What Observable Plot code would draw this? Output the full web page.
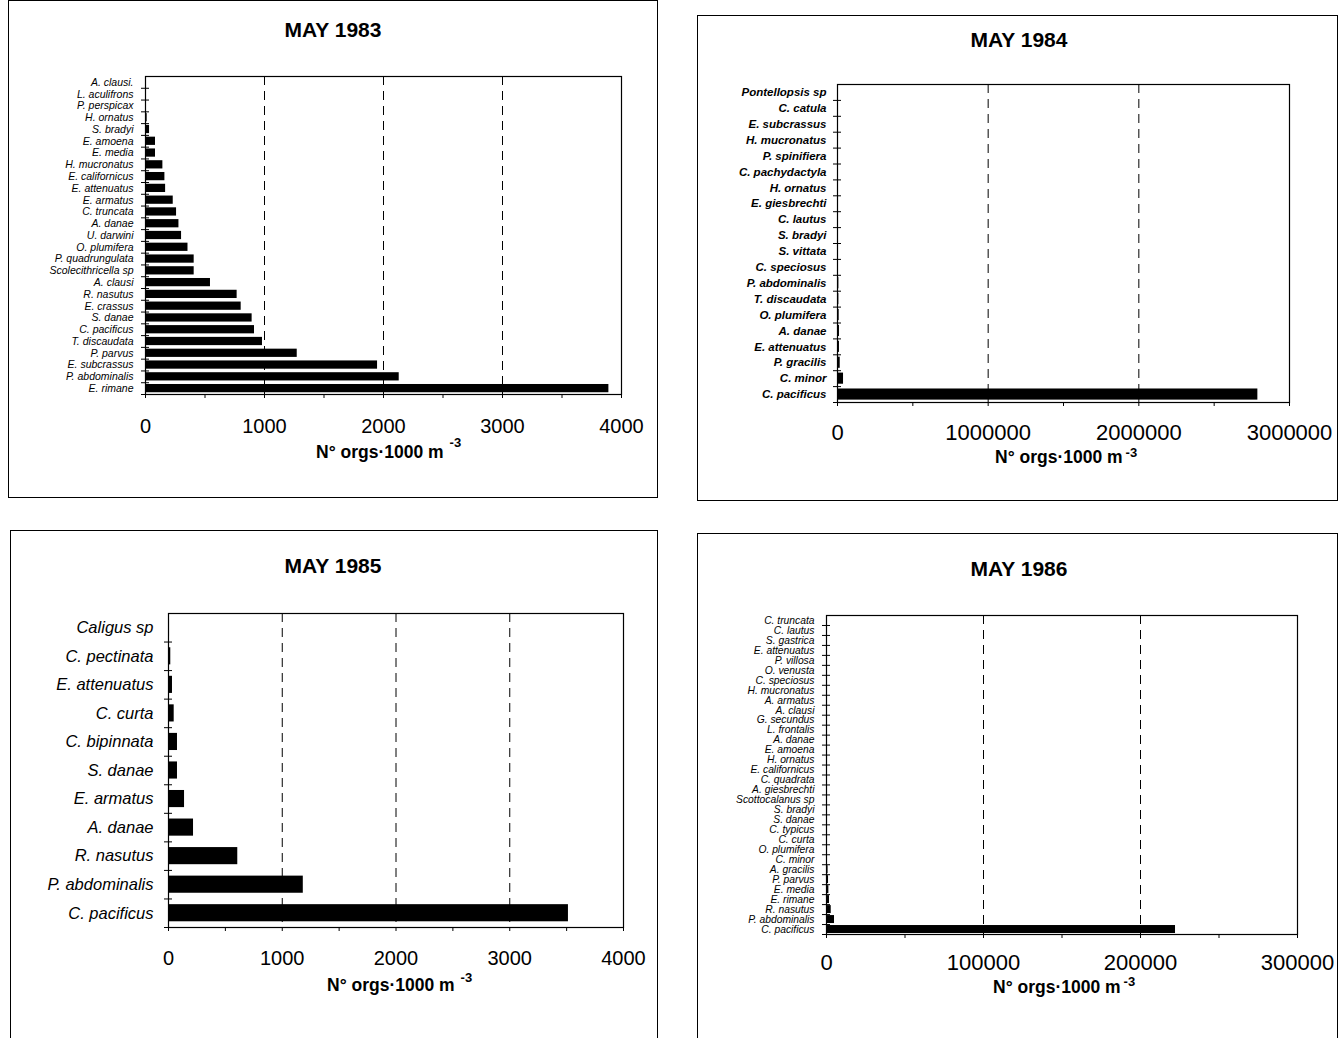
<!DOCTYPE html>
<html>
<head>
<meta charset="utf-8">
<script src="https://cdn.jsdelivr.net/npm/d3@7"></script>
<script src="https://cdn.jsdelivr.net/npm/@observablehq/plot@0.6"></script>
<style>
  html, body { margin: 0; padding: 0; background: #fff; }
  body { width: 1340px; height: 1038px; position: relative; overflow: hidden; font-family: "Liberation Sans", Arial, sans-serif; }
  .frame { position: absolute; border: 1px solid #000; box-sizing: border-box; }
  .title { position: absolute; font-weight: bold; font-size: 21px; transform: translate(-50%, -50%); white-space: nowrap; }
  .xlab { position: absolute; font-weight: bold; font-size: 17.5px; transform: translate(0, -50%); white-space: nowrap; }
  .xlab sup { font-size: 13px; position: relative; vertical-align: baseline; }
  .plot { position: absolute; }
</style>
</head>
<body>
<script>
// ---------- DATA ----------
const species1983 = ["A. clausi.", "L. aculifrons", "P. perspicax", "H. ornatus", "S. bradyi", "E. amoena", "E. media",
  "H. mucronatus", "E. californicus", "E. attenuatus", "E. armatus", "C. truncata", "A. danae", "U. darwini",
  "O. plumifera", "P. quadrungulata", "Scolecithricella sp", "A. clausi", "R. nasutus", "E. crassus", "S. danae",
  "C. pacificus", "T. discaudata", "P. parvus", "E. subcrassus", "P. abdominalis", "E. rimane"];
const values1983 = [3, 3, 4, 14, 34, 84, 84, 146, 163, 169, 233, 261, 281, 303, 357, 409, 409, 546, 770, 804, 896,
  916, 983, 1275, 1950, 2132, 3894];

const species1984 = ["Pontellopsis sp", "C. catula", "E. subcrassus", "H. mucronatus", "P. spinifiera", "C. pachydactyla",
  "H. ornatus", "E. giesbrechti", "C. lautus", "S. bradyi", "S. vittata", "C. speciosus", "P. abdominalis",
  "T. discaudata", "O. plumifera", "A. danae", "E. attenuatus", "P. gracilis", "C. minor", "C. pacificus"];
const values1984 = [500, 600, 700, 800, 900, 1000, 1200, 2000, 2000, 2500, 4000, 4000, 9000, 9000, 11000, 13000,
  13000, 18000, 40000, 2790000];

const species1985 = ["Caligus sp", "C. pectinata", "E. attenuatus", "C. curta", "C. bipinnata", "S. danae", "E. armatus",
  "A. danae", "R. nasutus", "P. abdominalis", "C. pacificus"];
const values1985 = [9, 20, 35, 50, 79, 79, 141, 220, 609, 1185, 3516];

const species1986 = ["C. truncata", "C. lautus", "S. gastrica", "E. attenuatus", "P. villosa", "O. venusta", "C. speciosus",
  "H. mucronatus", "A. armatus", "A. clausi", "G. secundus", "L. frontalis", "A. danae", "E. amoena", "H. ornatus",
  "E. californicus", "C. quadrata", "A. giesbrechti", "Scottocalanus sp", "S. bradyi", "S. danae", "C. typicus",
  "C. curta", "O. plumifera", "C. minor", "A. gracilis", "P. parvus", "E. media", "E. rimane", "R. nasutus",
  "P. abdominalis", "C. pacificus"];
const values1986 = [20, 20, 30, 30, 40, 40, 50, 50, 60, 60, 70, 70, 80, 90, 100, 100, 120, 150, 150, 180, 200, 250,
  300, 400, 600, 1000, 1300, 1500, 1900, 3000, 5100, 222300];

const ticks1983 = [0, 500, 1000, 1500, 2000, 2500, 3000, 3500, 4000];
const labels1983 = [0, 1000, 2000, 3000, 4000];
const grid1983 = [1000, 2000, 3000];

const ticks1984 = [0, 500000, 1000000, 1500000, 2000000, 2500000, 3000000];
const labels1984 = [0, 1000000, 2000000, 3000000];
const grid1984 = [1000000, 2000000];

const ticks1985 = [0, 500, 1000, 1500, 2000, 2500, 3000, 3500, 4000];
const labels1985 = [0, 1000, 2000, 3000, 4000];
const grid1985 = [1000, 2000, 3000];

const ticks1986 = [0, 50000, 100000, 150000, 200000, 250000, 300000];
const labels1986 = [0, 100000, 200000, 300000];
const grid1986 = [100000, 200000];

const titles = ["MAY 1983", "MAY 1984", "MAY 1985", "MAY 1986"];
const xAxisTitle = "N° orgs·1000 m";
const xAxisExp = "-3";

// ---------- DRAW ----------
const FONT = "Liberation Sans, Arial, sans-serif";

function panel(cfg) {
  const data = cfg.species.map((s, i) => ({s, v: cfg.values[i]}));
  const n = cfg.species.length;
  const ph = cfg.height - cfg.mt - cfg.mb;
  const step = ph / n;
  const svg = Plot.plot({
    width: cfg.width,
    height: cfg.height,
    marginLeft: cfg.ml, marginRight: cfg.mr, marginTop: cfg.mt, marginBottom: cfg.mb,
    style: {fontFamily: FONT, background: "transparent", color: "#000", overflow: "visible"},
    x: {domain: [0, cfg.xMax]},
    y: {domain: cfg.species, paddingInner: cfg.pad, paddingOuter: cfg.pad / 2, round: false},
    marks: [
      Plot.ruleX(cfg.grid, {stroke: "#000", strokeWidth: 1, strokeDasharray: "9,6"}),
      Plot.barX(data, {x: "v", y: "s", fill: "#000"}),
      Plot.frame({stroke: "#000", strokeWidth: 1.2}),
      Plot.axisX({ticks: cfg.ticks, tickSize: 4, tickPadding: cfg.xPad, fontSize: cfg.xFont,
        tickFormat: d => cfg.labels.includes(d) ? String(d) : "", label: null, stroke: "#000"}),
      Plot.axisY({tickSize: 0, tickPadding: cfg.yPad, fontSize: cfg.yFont, fontStyle: "italic",
        fontWeight: cfg.yWeight, label: null}),
      Plot.axisY({tickSize: 8, dx: 4, dy: step / 2, tickFormat: () => "", label: null, stroke: "#000"})
    ]
  });
  svg.classList.add("plot");
  svg.style.left = cfg.left + "px";
  svg.style.top = cfg.top + "px";
  svg.querySelectorAll('g[aria-label="y-axis tick label"]').forEach(g => {
    g.setAttribute("font-style", "italic");
    g.setAttribute("font-weight", cfg.yWeight);
  });
  return svg;
}

function addDiv(cls, x, y, html) {
  const d = document.createElement("div");
  d.className = cls;
  d.style.left = x + "px";
  d.style.top = y + "px";
  d.innerHTML = html;
  document.body.appendChild(d);
  return d;
}

const panels = [
  {species: species1983, values: values1983, xMax: 4000, ticks: ticks1983, labels: labels1983, grid: grid1983,
   left: 8, top: 0, width: 649, height: 497, ml: 137, mr: 36, mt: 76, mb: 103, pad: 0.3,
   yFont: 10.5, yWeight: "normal", yPad: 12, xFont: 20, xPad: 20,
   frame: [8, 0, 650, 498], title: [333, 30], xlab: [316, 452], sup: [6, -11]},
  {species: species1984, values: values1984, xMax: 3000000, ticks: ticks1984, labels: labels1984, grid: grid1984,
   left: 697, top: 15, width: 640, height: 485, ml: 140, mr: 48, mt: 69, mb: 98, pad: 0.3,
   yFont: 11.5, yWeight: "bold", yPad: 11, xFont: 22, xPad: 18,
   frame: [697, 15, 641, 486], title: [1019, 40], xlab: [995, 457], sup: [3, -6]},
  {species: species1985, values: values1985, xMax: 4000, ticks: ticks1985, labels: labels1985, grid: grid1985,
   left: 10, top: 530, width: 647, height: 508, ml: 158, mr: 34, mt: 83, mb: 111, pad: 0.4,
   yFont: 16.5, yWeight: "normal", yPad: 15, xFont: 20, xPad: 19,
   frame: [10, 530, 648, 560], title: [333, 566], xlab: [327, 985], sup: [6, -9]},
  {species: species1986, values: values1986, xMax: 300000, ticks: ticks1986, labels: labels1986, grid: grid1986,
   left: 697, top: 533, width: 640, height: 505, ml: 129, mr: 40, mt: 82, mb: 104, pad: 0.2,
   yFont: 10.3, yWeight: "normal", yPad: 12, xFont: 22, xPad: 16,
   frame: [697, 533, 641, 560], title: [1019, 569], xlab: [993, 987], sup: [3, -7]}
];

panels.forEach((p, i) => {
  const f = document.createElement("div");
  f.className = "frame";
  Object.assign(f.style, {left: p.frame[0] + "px", top: p.frame[1] + "px", width: p.frame[2] + "px", height: p.frame[3] + "px"});
  document.body.appendChild(f);
  document.body.appendChild(panel(p));
  addDiv("title", p.title[0], p.title[1], titles[i]);
  addDiv("xlab", p.xlab[0], p.xlab[1],
    xAxisTitle + '<sup style="margin-left:' + p.sup[0] + 'px; top:' + p.sup[1] + 'px">' + xAxisExp + "</sup>");
});
</script>
</body>
</html>
